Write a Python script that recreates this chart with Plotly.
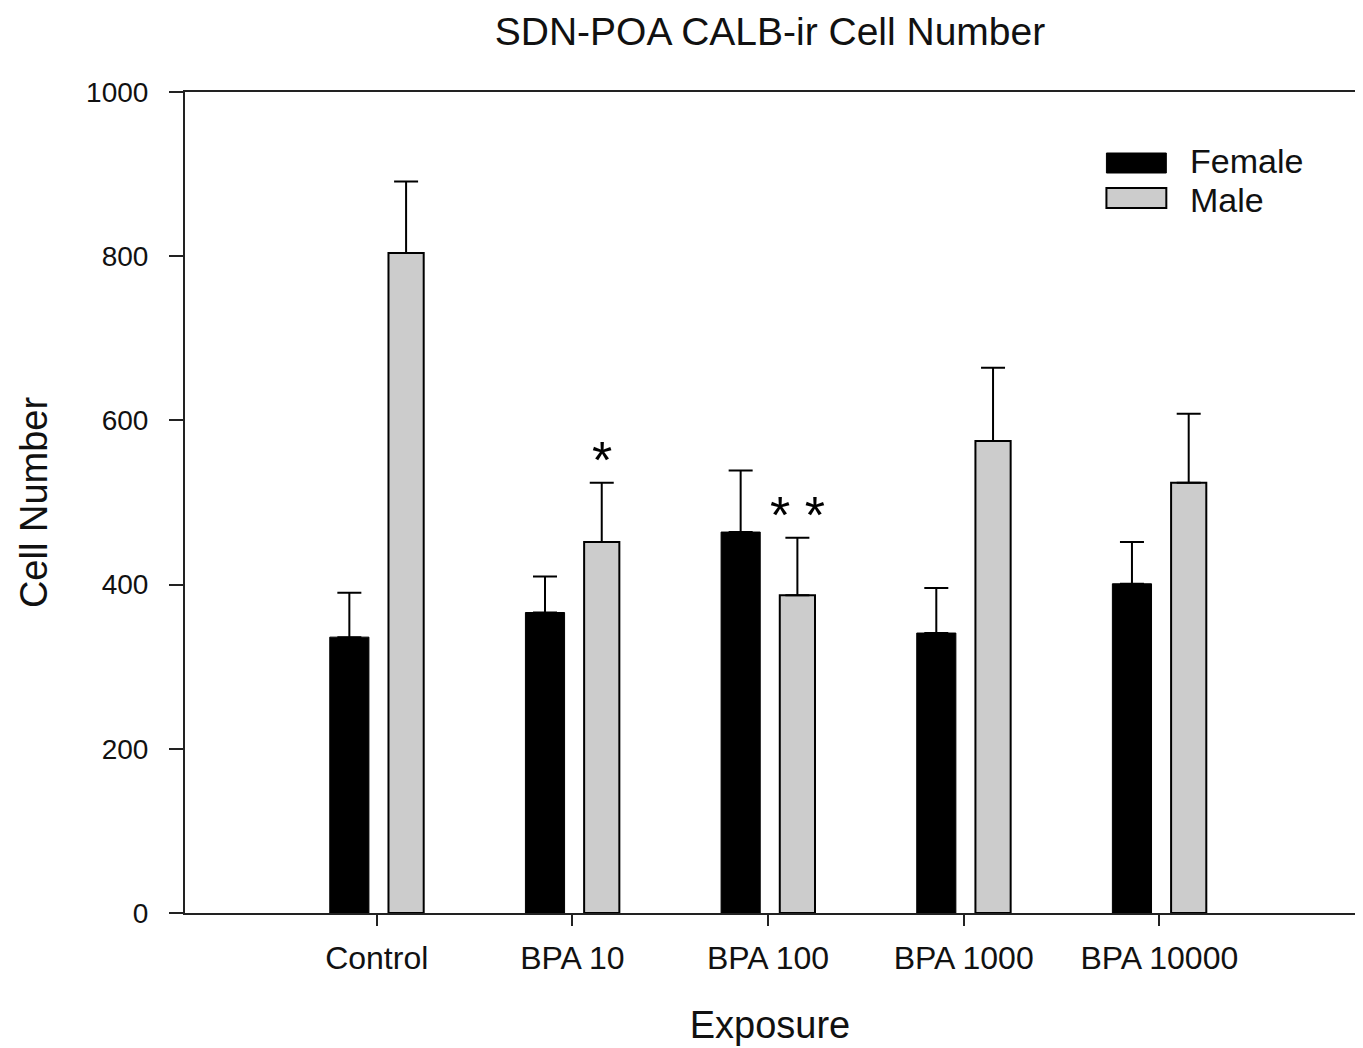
import plotly.graph_objects as go

categories = ["Control", "BPA 10", "BPA 100", "BPA 1000", "BPA 10000"]
female_mean = [336, 366, 464, 341, 401]
female_sem = [54, 44, 75, 55, 51]
male_mean = [804, 452, 387, 575, 524]
male_sem = [87, 72, 70, 89, 84]
y_ticks = [0, 200, 400, 600, 800, 1000]
sig_marks = ["", "*", "* *", "", ""]

xpos = list(range(len(categories)))

fig = go.Figure()
fig.add_trace(go.Bar(
    x=xpos, y=female_mean, name="Female",
    offset=-0.24, width=0.2,
    marker=dict(color="#000000", line=dict(color="#000000", width=1)),
    error_y=dict(type="data", symmetric=False, array=female_sem,
                 arrayminus=[0] * len(female_sem),
                 color="#000000", thickness=2, width=12),
    showlegend=False,
))
fig.add_trace(go.Bar(
    x=xpos, y=male_mean, name="Male",
    offset=0.06, width=0.18,
    marker=dict(color="#cccccc", line=dict(color="#000000", width=2)),
    error_y=dict(type="data", symmetric=False, array=male_sem,
                 arrayminus=[0] * len(male_sem),
                 color="#000000", thickness=2, width=12),
    showlegend=False,
))

# significance marks above male bars
for i, s in enumerate(sig_marks):
    if s:
        fig.add_annotation(
            x=i + 0.15, y=male_mean[i] + male_sem[i] + 35,
            xref="x", yref="y", text=s, showarrow=False,
            yanchor="middle", yshift=-6,
            font=dict(family="Liberation Sans, Arial", size=52, color="#000000"),
        )

# manual legend (page has an 8px body margin; figure is sized to compensate)
W, H = 1355, 1040
L, R, T, B = 177, 6, 84, 135
pw, ph = W - L - R, H - T - B


def px(xp):
    return (xp - 8 - L) / pw


def py(yp):
    return (H - B - (yp - 8)) / ph


legend_font = dict(family="Liberation Sans, Arial", size=34, color="#111111")
fig.add_shape(type="rect", xref="paper", yref="paper",
              x0=px(1108), x1=px(1168), y0=py(173), y1=py(153),
              fillcolor="#000000", line=dict(color="#000000", width=1))
fig.add_shape(type="rect", xref="paper", yref="paper",
              x0=px(1108), x1=px(1168), y0=py(208), y1=py(188),
              fillcolor="#cccccc", line=dict(color="#000000", width=2))
fig.add_annotation(x=px(1190), y=py(161), xref="paper", yref="paper",
                   text="Female", showarrow=False, xanchor="left",
                   yanchor="middle", font=legend_font)
fig.add_annotation(x=px(1190), y=py(200), xref="paper", yref="paper",
                   text="Male", showarrow=False, xanchor="left",
                   yanchor="middle", font=legend_font)

fig.update_layout(
    width=W, height=H,
    margin=dict(l=L, r=R, t=T, b=B),
    paper_bgcolor="white", plot_bgcolor="white",
    barmode="overlay",
    title=dict(text="SDN-POA CALB-ir Cell Number", x=0.5, xref="paper",
               y=1 - (31 - 8) / H, yref="container", yanchor="middle", xanchor="center",
               font=dict(family="Liberation Sans, Arial", size=39, color="#111111")),
    xaxis=dict(
        range=[-0.98, 5.0], tickmode="array", tickvals=xpos, ticktext=categories,
        ticks="outside", ticklen=11, tickwidth=2, tickcolor="#222222",
        ticklabelstandoff=5,
        showline=True, linecolor="#222222", linewidth=2, mirror=True,
        showgrid=False, zeroline=False,
        tickfont=dict(family="Liberation Sans, Arial", size=32, color="#111111"),
        title=dict(text="Exposure", standoff=36,
                   font=dict(family="Liberation Sans, Arial", size=38, color="#111111")),
    ),
    yaxis=dict(
        range=[0, 1000], tickmode="array", tickvals=y_ticks,
        ticktext=[str(v) for v in y_ticks],
        ticks="outside", ticklen=14, tickwidth=2, tickcolor="#222222",
        ticklabelstandoff=15,
        showline=True, linecolor="#222222", linewidth=2, mirror=True,
        showgrid=False, zeroline=False,
        tickfont=dict(family="Liberation Sans, Arial", size=28, color="#111111"),
        title=dict(text="Cell Number", standoff=27,
                   font=dict(family="Liberation Sans, Arial", size=38, color="#111111")),
    ),
)

fig.write_html("out.html")
